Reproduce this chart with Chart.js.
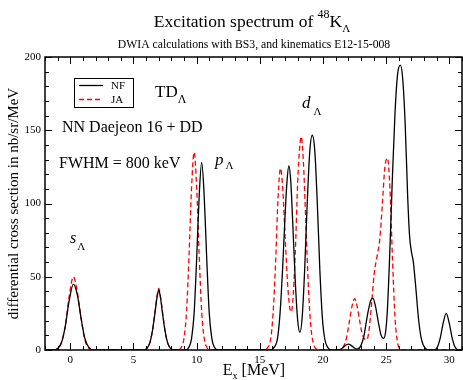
<!DOCTYPE html>
<html>
<head>
<meta charset="utf-8">
<script src="https://cdn.jsdelivr.net/npm/chart.js@4.4.0/dist/chart.umd.min.js"></script>
<style>
  html, body { margin: 0; padding: 0; background: #fff; }
</style>
</head>
<body>
<canvas id="spectrum" width="463" height="380"></canvas>
<script>
// NF (solid) spectrum, E_x in MeV and cross section in nb/sr/MeV
const nfEnergy = [-2, -1.3, -1.0, -0.7, -0.4, -0.1, 0.25, 0.55, 0.85, 1.15, 1.45, 1.8,
  5.8, 6.1, 6.3, 6.5, 6.7, 6.85, 7.0, 7.15, 7.3, 7.5, 7.7, 7.9, 8.2,
  9.1, 9.4, 9.6, 9.8, 10.0, 10.2, 10.4, 10.6, 10.8, 11.0, 11.2, 11.4, 11.7,
  15.8, 16.1, 16.4, 16.6, 16.8, 17.0, 17.15, 17.3, 17.45, 17.6, 17.8, 18.0, 18.17, 18.35, 18.55, 18.75, 18.95, 19.15, 19.35, 19.55, 19.75, 19.95, 20.15, 20.4, 20.7,
  21.2, 21.5, 21.75, 22.0, 22.25, 22.5, 22.75, 23.0, 23.25, 23.5, 23.75, 23.95, 24.15, 24.4, 24.6, 24.8, 24.95, 25.1, 25.3, 25.5, 25.7, 25.9, 26.12, 26.3, 26.5, 26.7, 26.85, 27.0, 27.15, 27.35, 27.55, 27.75, 27.95, 28.2, 28.5,
  28.8, 29.05, 29.3, 29.5, 29.75, 30.0, 30.2, 30.45, 30.75, 31];
const nfSigma = [0, 0, 1, 5, 16, 33, 45, 38, 22, 8, 2, 0,
  0, 1.5, 5, 13, 25, 35, 41, 35, 25, 13, 5, 1.5, 0,
  0, 2, 8, 25, 62, 105, 128, 105, 62, 25, 8, 2, 0,
  0, 1.5, 8, 25, 55, 92, 115, 125.6, 115, 88, 48, 20, 12, 22, 55, 100, 135, 146.6, 136, 100, 55, 22, 7, 1.5, 0,
  0, 1, 3, 4, 3, 1.2, 0.8, 3, 10, 23, 33, 35.4, 30, 18, 10, 8, 12, 28, 70, 120, 162, 188, 194.5, 186, 155, 105, 78, 67, 60, 42, 22, 9, 3, 0.5, 0,
  0, 2, 9, 18, 25, 18, 9, 2, 0, 0];

// JA (dashed) spectrum
const jaEnergy = [-2, -1.3, -1.0, -0.7, -0.4, -0.1, 0.25, 0.55, 0.85, 1.15, 1.45, 1.8,
  5.8, 6.1, 6.3, 6.5, 6.7, 6.85, 7.0, 7.15, 7.3, 7.5, 7.7, 7.9, 8.2,
  8.5, 8.8, 9.0, 9.2, 9.4, 9.6, 9.8, 10.0, 10.2, 10.4, 10.6, 10.8, 11.1,
  15.3, 15.6, 15.85, 16.05, 16.25, 16.45, 16.64, 16.8, 17.0, 17.2, 17.35, 17.46, 17.6, 17.8, 18.0, 18.15, 18.28, 18.45, 18.65, 18.85, 19.05, 19.25, 19.5, 19.8,
  21.3, 21.6, 21.85, 22.1, 22.3, 22.5, 22.7, 22.9, 23.1, 23.3, 23.47, 23.65, 23.85, 24.05, 24.3, 24.5, 24.7, 24.9, 25.1, 25.3, 25.5, 25.7, 25.9, 26.1, 26.4, 31];
const jaSigma = [0, 0, 1, 5, 16, 36, 50, 40, 22, 7, 1.5, 0,
  0, 1.5, 5, 13, 26, 36, 42, 36, 26, 13, 5, 1.5, 0,
  0, 2, 8, 26, 65, 111, 135, 111, 65, 26, 8, 2, 0,
  0, 1.5, 7, 25, 60, 105, 124, 112, 78, 45, 30, 26, 32, 65, 115, 138, 145.7, 128, 85, 42, 15, 4, 0.5, 0,
  0, 2, 8, 20, 30, 35, 30, 20, 11, 7.5, 7, 14, 32, 52, 65, 76, 100, 125, 131, 110, 62, 22, 5, 0.5, 0, 0];

const seriesNames = ['NF', 'JA'];
const xTicks = [0, 5, 10, 15, 20, 25, 30];
const yTicks = [0, 50, 100, 150, 200];

const serif = '"Liberation Serif", "Times New Roman", serif';

function toPoints(xs, ys) {
  return xs.map((x, i) => ({ x: x, y: ys[i] }));
}

// draws a run of text pieces, each with its own size / offset
function drawRich(ctx, pieces, x, y, align) {
  let total = 0;
  pieces.forEach(p => {
    ctx.font = (p.style || '') + ' ' + p.size + 'px ' + serif;
    p.w = ctx.measureText(p.text).width + (p.gap || 0);
    total += p.w;
  });
  let cx = align === 'center' ? x - total / 2 : x;
  pieces.forEach(p => {
    ctx.font = (p.style || '') + ' ' + p.size + 'px ' + serif;
    ctx.fillText(p.text, cx, y + (p.dy || 0));
    cx += p.w;
  });
}

const framePlugin = {
  id: 'frame',
  afterDraw(chart) {
    const ctx = chart.ctx;
    const a = chart.chartArea;
    const xs = chart.scales.x, ys = chart.scales.y;
    ctx.save();
    ctx.strokeStyle = '#000';
    ctx.fillStyle = '#000';
    ctx.lineWidth = 1.5;
    ctx.strokeRect(a.left, a.top, a.right - a.left, a.bottom - a.top);

    // inward ticks on all four sides
    ctx.lineWidth = 1;
    ctx.beginPath();
    for (let v = Math.ceil(xs.min); v <= Math.floor(xs.max); v++) {
      const px = Math.round(xs.getPixelForValue(v)) + 0.5;
      const len = v % 5 === 0 ? 7 : 4;
      ctx.moveTo(px, a.bottom); ctx.lineTo(px, a.bottom - len);
      ctx.moveTo(px, a.top); ctx.lineTo(px, a.top + len);
    }
    for (let v = ys.min; v <= ys.max; v += 10) {
      const py = Math.round(ys.getPixelForValue(v)) + 0.5;
      const len = v % 50 === 0 ? 7 : 4;
      ctx.moveTo(a.left, py); ctx.lineTo(a.left + len, py);
      ctx.moveTo(a.right, py); ctx.lineTo(a.right - len, py);
    }
    ctx.stroke();

    // legend box
    ctx.lineWidth = 1;
    ctx.strokeRect(74.5, 78.5, 59, 29);
    ctx.lineWidth = 1.3;
    ctx.beginPath();
    ctx.moveTo(79, 85.5); ctx.lineTo(103, 85.5);
    ctx.stroke();
    ctx.strokeStyle = '#ff0000';
    ctx.setLineDash([5, 3]);
    ctx.beginPath();
    ctx.moveTo(79, 99.5); ctx.lineTo(103, 99.5);
    ctx.stroke();
    ctx.setLineDash([]);
    ctx.textAlign = 'left';
    ctx.textBaseline = 'alphabetic';
    ctx.font = '11px ' + serif;
    ctx.fillText(seriesNames[0], 111, 89);
    ctx.fillText(seriesNames[1], 111, 103);

    // titles
    drawRich(ctx, [
      { text: 'Excitation spectrum of ', size: 17.5 },
      { text: '48', size: 12, dy: -9 },
      { text: 'K', size: 17.5 },
      { text: 'Λ', size: 11, dy: 5 }
    ], 252, 27, 'center');
    ctx.font = '11.7px ' + serif;
    ctx.textAlign = 'center';
    ctx.fillText('DWIA calculations with BS3, and kinematics E12-15-008', 254, 48);
    ctx.textAlign = 'left';
    drawRich(ctx, [
      { text: 'E', size: 16 },
      { text: 'x', size: 10, dy: 4, gap: 4 },
      { text: '[MeV]', size: 16 }
    ], 254, 375, 'center');

    // annotations inside the frame
    drawRich(ctx, [{ text: 'TD', size: 17 }, { text: 'Λ', size: 12, dy: 6 }], 155, 97);
    ctx.font = '16px ' + serif;
    ctx.fillText('NN Daejeon 16 + DD', 62, 132);
    ctx.fillText('FWHM = 800 keV', 59, 168);
    drawRich(ctx, [{ text: 'p', size: 17, style: 'italic', gap: 2 }, { text: 'Λ', size: 11, dy: 4 }], 215, 165);
    drawRich(ctx, [{ text: 's', size: 16, style: 'italic', gap: 1 }, { text: 'Λ', size: 11, dy: 7 }], 70, 243);
    drawRich(ctx, [{ text: 'd', size: 17, style: 'italic', gap: 3 }, { text: 'Λ', size: 11, dy: 7 }], 302, 108);
    ctx.restore();
  }
};

new Chart(document.getElementById('spectrum'), {
  type: 'scatter',
  data: {
    datasets: [
      {
        label: seriesNames[0],
        data: toPoints(nfEnergy, nfSigma),
        showLine: true,
        borderColor: '#000000',
        borderWidth: 1.3,
        pointRadius: 0,
        cubicInterpolationMode: 'monotone'
      },
      {
        label: seriesNames[1],
        data: toPoints(jaEnergy, jaSigma),
        showLine: true,
        borderColor: '#ff0000',
        borderWidth: 1.3,
        borderDash: [5, 3],
        pointRadius: 0,
        cubicInterpolationMode: 'monotone'
      }
    ]
  },
  options: {
    responsive: false,
    animation: false,
    layout: { padding: { top: 57, right: 1, left: 0, bottom: 0 } },
    plugins: {
      legend: { display: false },
      tooltip: { enabled: false }
    },
    scales: {
      x: {
        type: 'linear',
        min: -2,
        max: 31,
        afterBuildTicks: s => { s.ticks = xTicks.map(v => ({ value: v })); },
        afterFit: s => { s.height = 30; },
        grid: { display: false, drawTicks: false },
        border: { display: false },
        ticks: { color: '#000', padding: 4, font: { family: serif, size: 11 } }
      },
      y: {
        type: 'linear',
        min: 0,
        max: 200,
        afterBuildTicks: s => { s.ticks = yTicks.map(v => ({ value: v })); },
        afterFit: s => { s.width = 45; },
        grid: { display: false, drawTicks: false },
        border: { display: false },
        ticks: { color: '#000', padding: 4, font: { family: serif, size: 11 } },
        title: {
          display: true,
          text: 'differential cross section in nb/sr/MeV',
          color: '#000',
          padding: { top: 5, bottom: 0 },
          font: { family: serif, size: 15 }
        }
      }
    }
  },
  plugins: [framePlugin]
});
</script>
</body>
</html>
